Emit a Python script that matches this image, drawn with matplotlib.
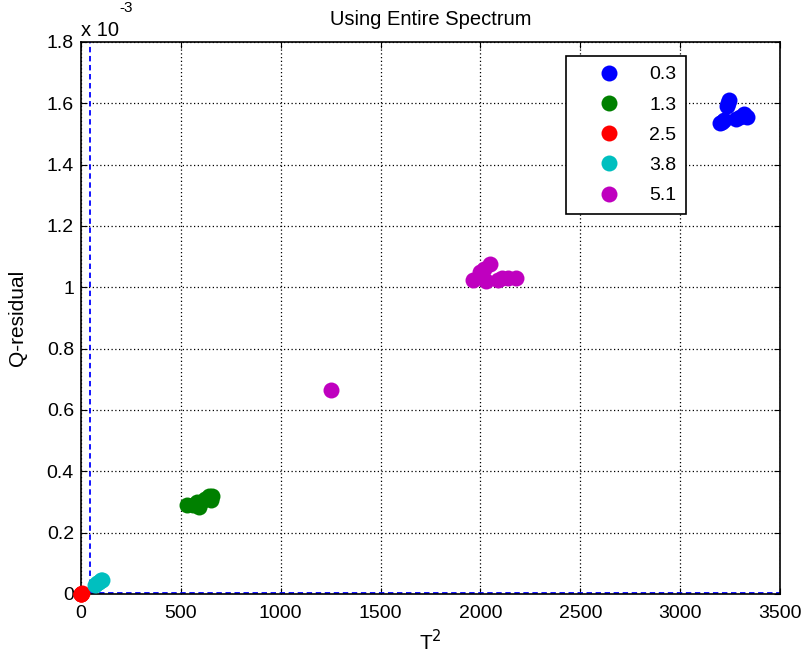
import matplotlib
matplotlib.use("Agg")
import matplotlib.pyplot as plt
from matplotlib.ticker import FixedLocator, FuncFormatter

plt.rcParams['font.family'] = ['Liberation Sans', 'DejaVu Sans']

labels = ['0.3', '1.3', '2.5', '3.8', '5.1']
colors = ['#0000ff', '#008000', '#ff0000', '#00bfbf', '#bf00bf']

# T^2 values and Q-residual values (in units of 1e-3)
t2_03 = [3200, 3210, 3220, 3235, 3240, 3245, 3280, 3300, 3320, 3335]
q_03 = [1.535, 1.540, 1.545, 1.590, 1.600, 1.610, 1.550, 1.555, 1.565, 1.555]
t2_13 = [530, 560, 580, 590, 600, 620, 640, 650, 655]
q_13 = [0.290, 0.290, 0.300, 0.285, 0.300, 0.310, 0.320, 0.305, 0.320]
t2_25 = [0, 2, 4, 1]
q_25 = [0.000, 0.001, 0.002, 0.000]
t2_38 = [70, 80, 90, 100, 105]
q_38 = [0.030, 0.035, 0.040, 0.045, 0.045]
t2_51 = [1250, 1965, 2000, 2020, 2030, 2050, 2090, 2110, 2140, 2180]
q_51 = [0.665, 1.025, 1.050, 1.060, 1.020, 1.075, 1.025, 1.030, 1.030, 1.030]

t2_sets = [t2_03, t2_13, t2_25, t2_38, t2_51]
q_sets = [q_03, q_13, q_25, q_38, q_51]

t2_limit = 45
q_limit = 0.004

x_ticks = [0, 500, 1000, 1500, 2000, 2500, 3000, 3500]
y_ticks = [0, 0.2, 0.4, 0.6, 0.8, 1.0, 1.2, 1.4, 1.6, 1.8]

fig = plt.figure(figsize=(8.01, 6.53), dpi=100)
ax = fig.add_axes([0.101, 0.0904, 0.873, 0.8453])

for t2, q, c, lab in zip(t2_sets, q_sets, colors, labels):
    ax.plot(t2, q, 'o', color=c, markersize=11.5, markeredgewidth=0, label=lab,
            zorder=3, clip_on=False)

ax.axvline(t2_limit, color='#0000ff', linestyle='--', linewidth=1.3, dashes=(3, 2), zorder=2)
ax.axhline(q_limit, color='#0000ff', linestyle='--', linewidth=1.3, dashes=(3, 2), zorder=2)

ax.set_xlim(0, 3500)
ax.set_ylim(0, 1.8)
ax.xaxis.set_major_locator(FixedLocator(x_ticks))
ax.yaxis.set_major_locator(FixedLocator(y_ticks))
ax.yaxis.set_major_formatter(FuncFormatter(lambda v, p: ('%g' % round(v, 1))))
ax.grid(True, color='black', linestyle=(0, (1, 2)), linewidth=0.9)
ax.tick_params(direction='in', length=4, labelsize=14, top=True, right=True,
               labeltop=False, labelright=False)
ax.tick_params(axis='x', pad=8)
ax.tick_params(axis='y', pad=5)
for s in ax.spines.values():
    s.set_linewidth(1.2)

ax.set_title('Using Entire Spectrum', fontsize=14.5, pad=12)
ax.set_xlabel('T$^2$', fontsize=15, labelpad=5)
ax.set_ylabel('Q-residual', fontsize=15, labelpad=14)
ax.annotate('x 10', xy=(0, 1), xycoords='axes fraction', xytext=(0, 4.3),
            textcoords='offset points', fontsize=14.5, ha='left', va='baseline')
ax.annotate('-3', xy=(0, 1), xycoords='axes fraction', xytext=(28, 19.4),
            textcoords='offset points', fontsize=11, ha='left', va='bottom')

leg = ax.legend(loc='upper right', bbox_to_anchor=(0.8655, 0.9746), borderaxespad=0,
                fontsize=14, frameon=True, fancybox=False, edgecolor='black', framealpha=1,
                handletextpad=0.3, borderpad=0.5, labelspacing=0.65, handlelength=3.5)
leg.get_frame().set_linewidth(1.2)

fig.savefig('out.png', dpi=100)
